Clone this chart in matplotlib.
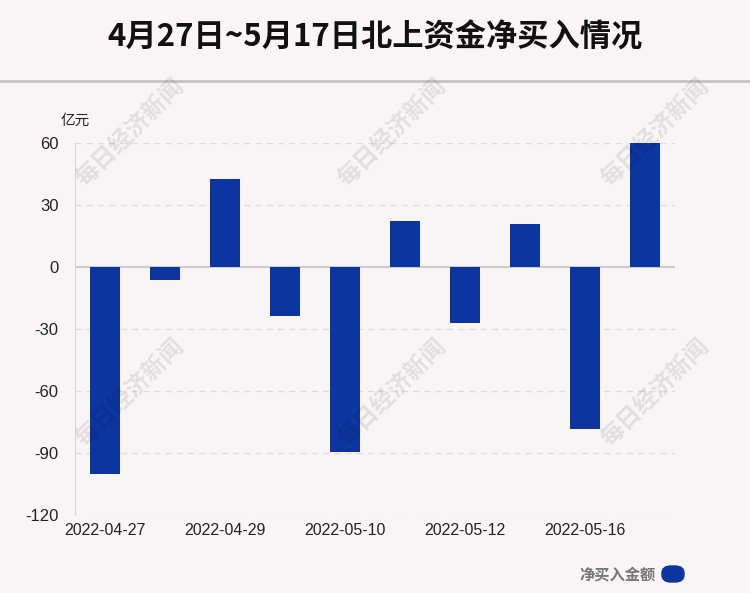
import matplotlib.pyplot as plt
from matplotlib.patches import FancyBboxPatch

plt.rcParams['font.family'] = ['Liberation Sans', 'Noto Sans CJK SC', 'DejaVu Sans']

# data (亿元)
dates = ['2022-04-27', '2022-04-28', '2022-04-29', '2022-05-09', '2022-05-10',
         '2022-05-11', '2022-05-12', '2022-05-13', '2022-05-16', '2022-05-17']
net_buy = [-100.0, -6.3, 42.5, -23.8, -89.4, 22.3, -27.1, 20.9, -78.4, 59.8]
yticks = [-120, -90, -60, -30, 0, 30, 60]

bg = '#f9f5f6'
bar_color = '#0d35a0'

fig = plt.figure(figsize=(7.5, 5.93), dpi=100, facecolor=bg)
ax = fig.add_axes([0.1, 0.1315, 0.8, 0.6274], facecolor=bg)

# title and separator line
fig.text(0.5, 0.936, '4月27日~5月17日北上资金净买入情况', ha='center', va='center',
         fontsize=22.5, fontweight='bold', family=['Noto Sans CJK SC'], color='#111111')
fig.add_artist(plt.Line2D([0, 1], [1 - 81 / 593, 1 - 81 / 593], color='#c4c4c4', lw=2))

# watermarks
for wx in [130, 392, 655]:
    for wy in [132, 392]:
        fig.text(wx / 750, 1 - wy / 593, '每日经济新闻', ha='center', va='center',
                 rotation=45, fontsize=17, fontweight='bold', color='black', alpha=0.09,
                 family=['Noto Sans CJK SC'], zorder=5)

x = list(range(len(dates)))
ax.bar(x, net_buy, width=0.5, color=bar_color, zorder=3)

ax.set_xlim(-0.5, 9.5)
ax.set_ylim(-120, 60)
ax.set_yticks(yticks)
ax.set_yticklabels([str(v) for v in yticks], fontsize=12, color='#222222')
ax.set_xticks(x[::2])
ax.set_xticklabels(dates[::2], fontsize=11.5, color='#222222')
ax.tick_params(axis='y', length=0, pad=12)
ax.tick_params(axis='x', length=0, pad=6)

for v in yticks:
    if v != 0:
        ax.axhline(v, color='#dddddd', lw=0.9, ls=(0, (5, 4)), zorder=1)
ax.axhline(0, color='#cccccc', lw=1.5, zorder=2)

for s in ['top', 'right', 'bottom']:
    ax.spines[s].set_visible(False)
ax.spines['left'].set_color('#d8d8d8')

fig.text(61 / 750, 1 - 121 / 593, '亿元', ha='left', va='center', fontsize=10.5,
         family=['Noto Sans CJK SC'], color='#222222')

# legend
fig.text(656 / 750, 1 - 574 / 593, '净买入金额', ha='right', va='center', fontsize=11,
         fontweight='bold', family=['Noto Sans CJK SC'], color='#777777')
fig.add_artist(FancyBboxPatch((662 / 750, 1 - 582 / 593), 22 / 750, 16 / 593,
                              boxstyle='round,pad=0,rounding_size=0.012',
                              transform=fig.transFigure, color=bar_color))

fig.savefig('out.png', dpi=100, facecolor=bg)
